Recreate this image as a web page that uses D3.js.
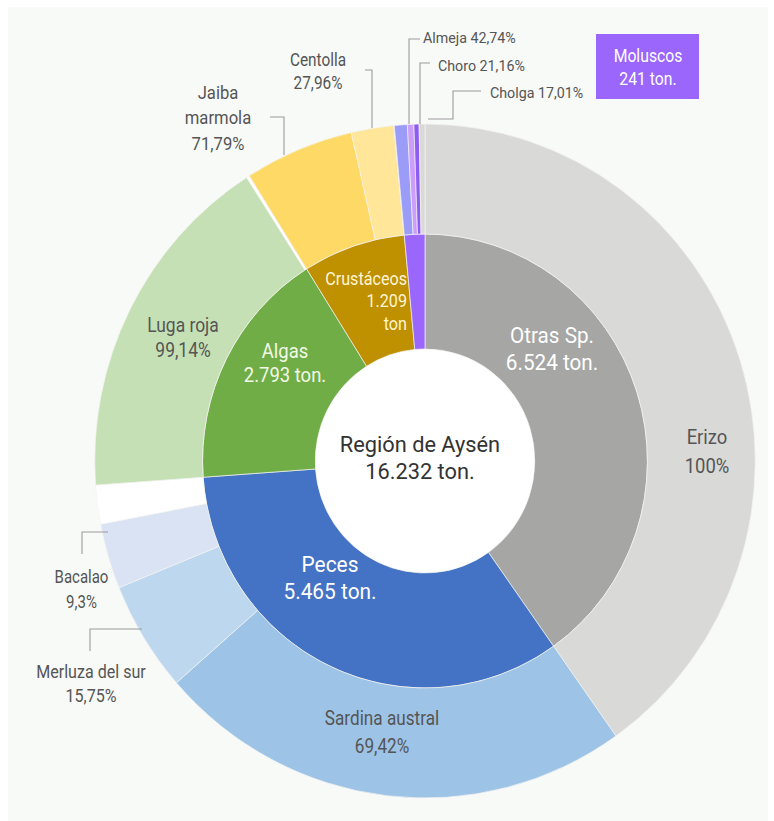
<!DOCTYPE html>
<html><head><meta charset="utf-8">
<script src="https://cdn.jsdelivr.net/npm/d3@7"></script>
<style>
html,body{margin:0;padding:0;background:#fff;}
svg{display:block;}
text{font-family:"Roboto","Liberation Sans",sans-serif;}
</style></head>
<body>
<svg id="chart" width="774" height="821"></svg>
<script>
// ---------- DATA ----------
const centerTitle = "Región de Aysén";
const centerTotal = "16.232 ton.";

const innerCategories = ["Otras Sp.", "Peces", "Algas", "Crustáceos", "Moluscos"];
const innerValues = [6524, 5465, 2793, 1209, 241];
const innerValueLabels = ["6.524 ton.", "5.465 ton.", "2.793 ton.", "1.209 ton", "241 ton."];

const outerNames   = ["Erizo", "Sardina austral", "Merluza del sur", "Bacalao", "(resto Peces)",
                      "Luga roja", "(resto Algas)",
                      "Jaiba marmola", "Centolla", "(resto Crustáceos)",
                      "Almeja", "Choro", "Cholga", "(resto Moluscos)"];
const outerParents = ["Otras Sp.", "Peces", "Peces", "Peces", "Peces",
                      "Algas", "Algas",
                      "Crustáceos", "Crustáceos", "Crustáceos",
                      "Moluscos", "Moluscos", "Moluscos", "Moluscos"];
const outerShares  = [100, 69.42, 15.75, 9.3, 5.53,
                      99.14, 0.86,
                      71.79, 27.96, 0.25,
                      42.74, 21.16, 17.01, 19.09];
const outerShareLabels = ["100%", "69,42%", "15,75%", "9,3%", "",
                          "99,14%", "",
                          "71,79%", "27,96%", "",
                          "42,74%", "21,16%", "17,01%", ""];

// ---------- STYLE / LAYOUT ----------
const W = 774, H = 821;
const cx = 425, cy = 461;
const rHole = 112, rMid = 227, rOuter = 337, xStretch = 0.98;

const innerColors = {"Otras Sp.":"#a6a6a5","Peces":"#4472c4","Algas":"#70ad47","Crustáceos":"#bf9000","Moluscos":"#9b66fb"};
const outerColors = {"Erizo":"#d9dad8","Sardina austral":"#9dc3e6","Merluza del sur":"#bdd7ee","Bacalao":"#dae3f3",
  "(resto Peces)":"#ffffff","Luga roja":"#c5e0b4","(resto Algas)":"#ffffff","Jaiba marmola":"#ffd966",
  "Centolla":"#ffe699","(resto Crustáceos)":"#ffffff","Almeja":"#9b9cf7","Choro":"#cc9dfa","Cholga":"#8d5cf2",
  "(resto Moluscos)":"#d9dad8"};

const svg = d3.select("#chart");
svg.append("rect").attr("width",W).attr("height",H).attr("fill","#ffffff");
svg.append("rect").attr("x",8).attr("y",7).attr("width",760).attr("height",H-7).attr("fill","#f8faf8");

const g = svg.append("g").attr("transform",`translate(${cx},${cy}) scale(${xStretch},1)`);

// inner ring via d3.pie
const pieInner = d3.pie().sort(null).value(d=>d.value).startAngle(0).endAngle(2*Math.PI);
const innerData = innerCategories.map((c,i)=>({name:c, value:innerValues[i]}));
const innerArcs = pieInner(innerData);
const arcInner = d3.arc().innerRadius(rHole).outerRadius(rMid);
g.selectAll("path.inner").data(innerArcs).join("path").attr("class","inner")
  .attr("d",arcInner).attr("fill",d=>innerColors[d.data.name])
  .attr("stroke","#f4f4f0").attr("stroke-width",0.7);

// outer ring: subdivide each parent angle by shares
const angleScaleByParent = {};
innerArcs.forEach(a=>{ angleScaleByParent[a.data.name] = d3.scaleLinear().domain([0,100]).range([a.startAngle,a.endAngle]); });
const cum = {};
const outerArcs = outerNames.map((n,i)=>{
  const p = outerParents[i];
  const s0 = cum[p]||0, s1 = s0+outerShares[i];
  cum[p] = s1;
  const sc = angleScaleByParent[p];
  return {name:n, parent:p, startAngle:sc(s0), endAngle:sc(Math.min(s1,100))};
});
const arcOuter = d3.arc().innerRadius(rMid).outerRadius(rOuter);
g.selectAll("path.outer").data(outerArcs).join("path").attr("class","outer")
  .attr("d",arcOuter).attr("fill",d=>outerColors[d.name])
  .attr("stroke","#f4f4f0").attr("stroke-width",0.7);

// hole
g.append("circle").attr("r",rHole-0.5).attr("fill","#ffffff");

// ---------- TEXT ----------
function lines(x,y,arr,opt){
  const sx = opt.sx||0.9;
  const t = svg.append("text").attr("transform",`translate(${x},${y}) scale(${sx},1)`)
    .attr("text-anchor",opt.anchor||"middle").attr("fill",opt.fill)
    .attr("font-size",opt.size);
  arr.forEach((s,i)=>t.append("tspan").attr("x",0).attr("dy",i===0?0:opt.lh).text(s));
}
lines(420,452,[centerTitle,centerTotal],{fill:"#333",size:22,lh:27,sx:0.99});

// inner labels
lines(552,343,[innerCategories[0],innerValueLabels[0]],{fill:"#ffffff",size:22,lh:27,sx:0.94});
lines(330,572,[innerCategories[1],innerValueLabels[1]],{fill:"#ffffff",size:22,lh:27,sx:0.95});
lines(285,358,[innerCategories[2],innerValueLabels[2]],{fill:"#f2f9e6",size:21,lh:24,sx:0.88});
lines(407,285,[innerCategories[3],innerValueLabels[3].split(" ")[0],innerValueLabels[3].split(" ")[1]],{fill:"#fff5d6",size:19,lh:22.5,anchor:"end",sx:0.85});

// outer labels
const gray = "#555";
lines(707,444,[outerNames[0],outerShareLabels[0]],{fill:gray,size:20.5,lh:29,sx:0.9});
lines(382,725,[outerNames[1],outerShareLabels[1]],{fill:gray,size:19.5,lh:28,sx:0.88});
lines(183,332,[outerNames[5],outerShareLabels[5]],{fill:gray,size:21,lh:25,sx:0.83});
lines(81.5,583,[outerNames[3],outerShareLabels[3]],{fill:gray,size:18.5,lh:25,sx:0.81});
lines(91,678,[outerNames[2],outerShareLabels[2]],{fill:gray,size:18.5,lh:24,sx:0.87});
lines(218,99,["Jaiba","marmola",outerShareLabels[7]],{fill:gray,size:18.5,lh:25.5,sx:0.9});
lines(318,66,[outerNames[8],outerShareLabels[8]],{fill:gray,size:18.5,lh:23,sx:0.83});
lines(423,43,[outerNames[10]+" "+outerShareLabels[10]],{fill:gray,size:15.5,lh:0,anchor:"start",sx:0.92});
lines(438,71,[outerNames[11]+" "+outerShareLabels[11]],{fill:gray,size:15.5,lh:0,anchor:"start",sx:0.92});
lines(490,98,[outerNames[12]+" "+outerShareLabels[12]],{fill:gray,size:15.5,lh:0,anchor:"start",sx:0.92});

// leader lines
const leaders = [
  [[420,39],[409,39],[409,124]],
  [[430,63],[420,63],[420,124]],
  [[481,91],[453,91],[453,119],[428,119]],
  [[365,70],[372,70],[372,128]],
  [[270,117],[284,117],[284,155]],
  [[108,532],[82,532],[82,554]],
  [[142,629],[90,629],[90,651]]
];
const lineGen = d3.line();
svg.selectAll("path.leader").data(leaders).join("path").attr("class","leader")
  .attr("d",lineGen).attr("fill","none").attr("stroke","#9a9a9a").attr("stroke-width",1.1);

// Moluscos box
svg.append("rect").attr("x",596).attr("y",34).attr("width",103).attr("height",65).attr("fill","#9b66fb");
lines(648,62,[innerCategories[4],innerValueLabels[4]],{fill:"#ffffff",size:19,lh:23,sx:0.83});
</script>
</body></html>
